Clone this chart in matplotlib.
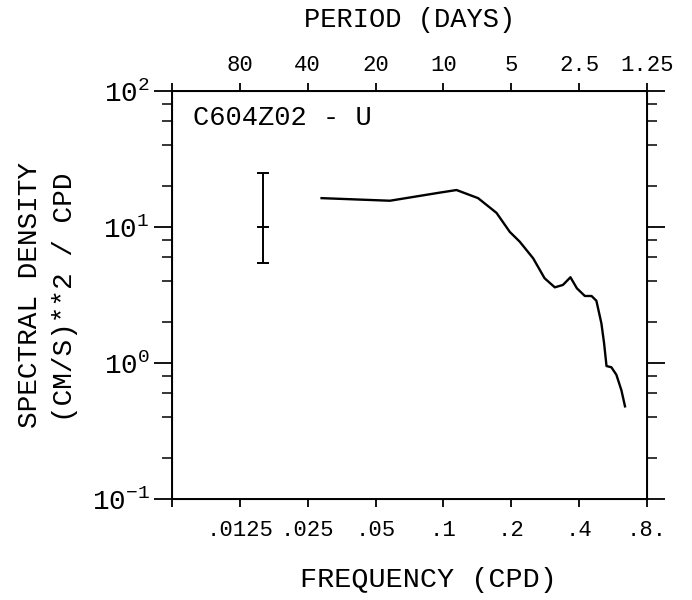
import matplotlib
matplotlib.use("Agg")
import matplotlib.pyplot as plt
from matplotlib.ticker import LogLocator, FixedLocator, NullLocator, NullFormatter
import numpy as np

# ---- data ----
freq = [0.0288, 0.0579, 0.0964, 0.1143, 0.1425, 0.172, 0.197, 0.218, 0.250,
        0.281, 0.312, 0.339, 0.366, 0.391, 0.424, 0.454, 0.477, 0.502, 0.516,
        0.529, 0.556, 0.585, 0.616, 0.639]
density = [16.3, 15.6, 17.9, 18.7, 16.3, 12.7, 9.2, 7.8, 5.89,
           4.20, 3.60, 3.75, 4.27, 3.54, 3.11, 3.11, 2.87, 1.96, 1.40,
           0.95, 0.93, 0.82, 0.63, 0.48]
err_freq = 0.0158
err_center = 10.0
err_low = 5.45
err_high = 25.1

freq_ticks = [0.00625, 0.0125, 0.025, 0.05, 0.1, 0.2, 0.4, 0.8]
freq_labels = ['', '.0125', '.025', '.05', '.1', '.2', '.4', '.8.']
period_ticks = [160, 80, 40, 20, 10, 5, 2.5, 1.25]
period_labels = ['', '80', '40', '20', '10', '5', '2.5', '1.25']
y_ticks = [0.1, 1, 10, 100]
y_labels = [r'$10^{-1}$', r'$10^{0}$', r'$10^{1}$', r'$10^{2}$']

FONT = 'Liberation Mono'
plt.rcParams['font.family'] = [FONT, 'DejaVu Sans']
plt.rcParams['mathtext.fontset'] = 'custom'
plt.rcParams['mathtext.rm'] = FONT
plt.rcParams['mathtext.it'] = FONT
plt.rcParams['mathtext.bf'] = FONT
plt.rcParams['mathtext.default'] = 'rm'

fig = plt.figure(figsize=(6.92, 6.0), dpi=100)
ax = fig.add_axes([172/692, 1-499/600, (647-172)/692, (499-91)/600])

ax.plot(freq, density, color='black', lw=1.7)
ax.errorbar([err_freq], [err_center],
            yerr=[[err_center-err_low], [err_high-err_center]],
            fmt='none', ecolor='black', elinewidth=1.4, capsize=4.5, capthick=1.4)
ax.plot([err_freq], [err_center], marker='_', ms=9, mew=1.4, color='black')

ax.set_xscale('log', base=2)
ax.set_yscale('log')
ax.set_xlim(0.00625, 0.8)
ax.set_ylim(0.1, 100)

ax.xaxis.set_major_locator(FixedLocator(freq_ticks))
ax.set_xticklabels(freq_labels, fontsize=16)
ax.xaxis.set_minor_locator(NullLocator())
ax.set_yticks(y_ticks)
ax.set_yticklabels(y_labels, fontsize=20)
ax.yaxis.set_minor_locator(LogLocator(base=10, subs=[2, 4, 6, 8]))
ax.yaxis.set_minor_formatter(NullFormatter())

ax.tick_params(axis='x', which='major', direction='out', length=6, width=1.3,
               pad=9, bottom=True, top=False)
ax.tick_params(axis='y', which='major', direction='out', length=13, width=1.3,
               pad=3, left=True, right=True)
ax.tick_params(axis='y', which='minor', direction='out', length=7, width=1.1,
               left=True, right=True)

for s in ax.spines.values():
    s.set_linewidth(1.4)

top = ax.twiny()
top.set_xscale('log', base=2)
top.set_xlim(ax.get_xlim())
top.xaxis.set_major_locator(FixedLocator([1.0/p for p in period_ticks]))
top.set_xticklabels(period_labels, fontsize=16)
top.xaxis.set_minor_locator(NullLocator())
top.tick_params(axis='x', which='major', direction='out', length=6, width=1.3, pad=5)

fig.text((172+647)/2/692, 1-20/600, 'PERIOD (DAYS)', ha='center', va='center', fontsize=19.5)
fig.text(428/692, 1-580/600, 'FREQUENCY (CPD)', ha='center', va='center', fontsize=20.5)
fig.text(30/692, 1-295/600, 'SPECTRAL DENSITY', ha='center', va='center',
         rotation=90, fontsize=20)
fig.text(65/692, 1-297/600, '(CM/S)**2 / CPD', ha='center', va='center',
         rotation=90, fontsize=20)
fig.text(193/692, 1-118/600, 'C604Z02 - U', ha='left', va='center', fontsize=19.5)

fig.savefig('out.png', dpi=100)
